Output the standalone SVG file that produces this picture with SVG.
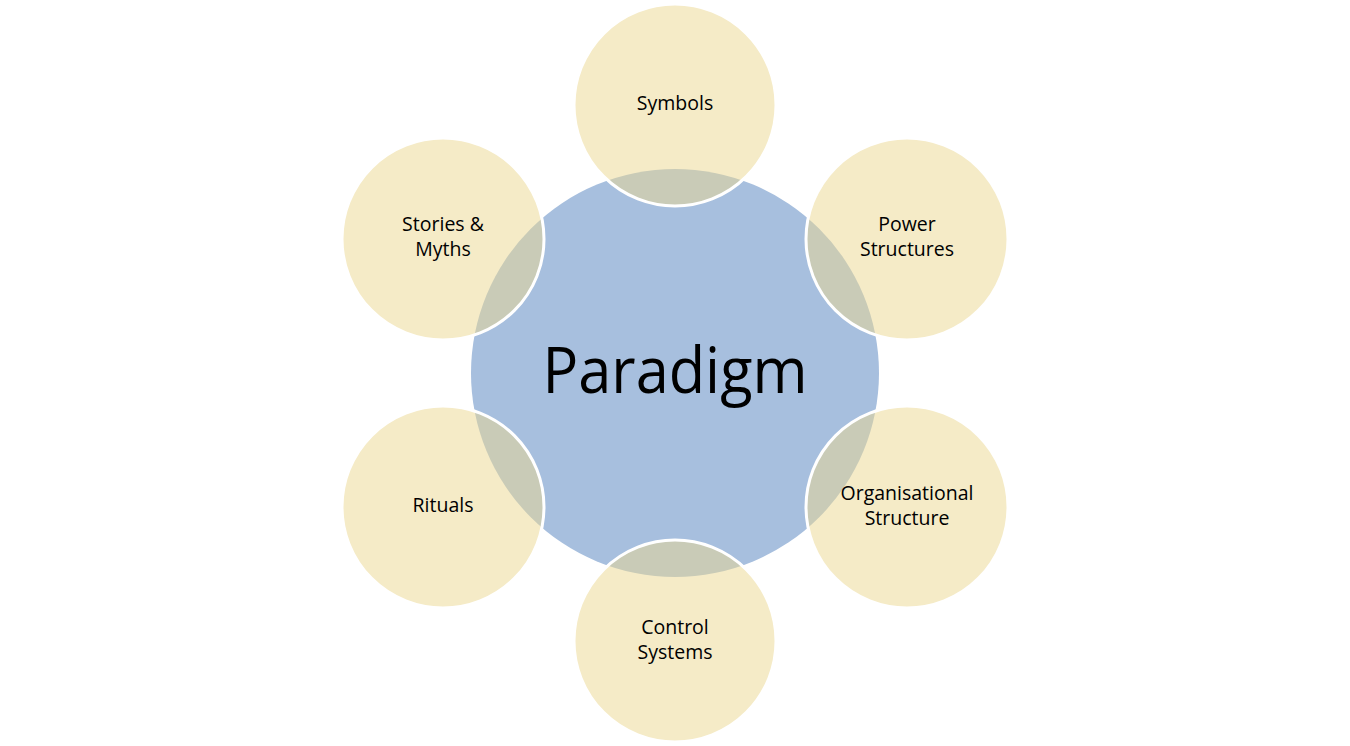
<svg xmlns="http://www.w3.org/2000/svg" width="1350" height="746" viewBox="0 0 1350 746">
<style>
.bg{fill:#FFFFFF}
.core{fill:#A7BFDE;stroke:none}
.sat{fill:#EBD78F;fill-opacity:0.5;stroke:#FFFFFF;stroke-width:3}
.lbl{font-family:"Open Sans","Liberation Sans",sans-serif;font-size:19.5px;fill:#000000;text-anchor:middle}
.big{font-family:"Open Sans","Liberation Sans",sans-serif;font-size:64px;fill:#000000;text-anchor:middle}
</style>
<rect class="bg" x="0" y="0" width="1350" height="746"/>
<g id="paradigm">
<circle class="core" cx="675" cy="373" r="204"/>
<text class="big" x="675" y="393" textLength="265" lengthAdjust="spacingAndGlyphs">Paradigm</text>
</g>
<g id="connectors"></g>
<g id="symbols">
<circle class="sat" cx="675" cy="105" r="101"/>
<text class="lbl" x="675" y="110">Symbols</text>
</g>
<g id="power-structures">
<circle class="sat" cx="907" cy="239" r="101"/>
<text class="lbl" x="907" y="231">Power</text>
<text class="lbl" x="907" y="256">Structures</text>
</g>
<g id="organisational-structure">
<circle class="sat" cx="907" cy="507" r="101"/>
<text class="lbl" x="907" y="500">Organisational</text>
<text class="lbl" x="907" y="525">Structure</text>
</g>
<g id="control-systems">
<circle class="sat" cx="675" cy="641" r="101"/>
<text class="lbl" x="675" y="634">Control</text>
<text class="lbl" x="675" y="659">Systems</text>
</g>
<g id="rituals">
<circle class="sat" cx="443" cy="507" r="101"/>
<text class="lbl" x="443" y="512">Rituals</text>
</g>
<g id="stories-myths">
<circle class="sat" cx="443" cy="239" r="101"/>
<text class="lbl" x="443" y="231">Stories &amp;</text>
<text class="lbl" x="443" y="256">Myths</text>
</g>
</svg>
